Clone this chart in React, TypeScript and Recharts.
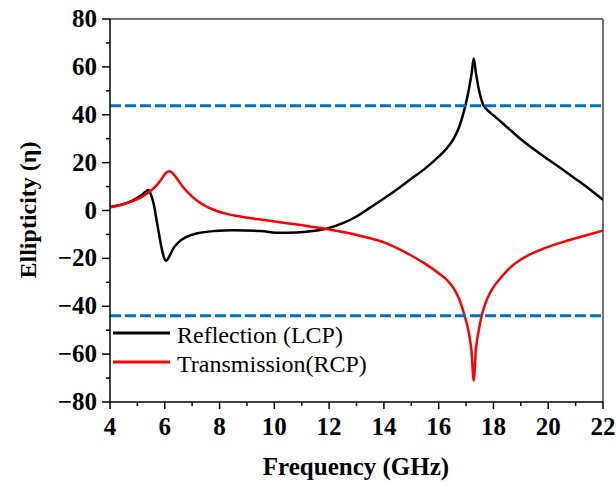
import React from 'react';
import { LineChart, Line, XAxis, YAxis, ReferenceLine, Legend } from 'recharts';

// Reflection (LCP) — black curve
const reflFreq = [4.0, 4.4, 4.8, 5.1, 5.3, 5.4, 5.5, 5.6, 5.7, 5.8, 5.9, 6.0, 6.05, 6.15, 6.3, 6.5, 6.8, 7.2, 7.8, 8.5, 9.5, 10.2, 10.8, 11.4, 11.9, 12.5, 13.0, 13.5, 14.0, 14.5, 15.0, 15.5, 16.0, 16.3, 16.55, 16.75, 16.9, 17.0, 17.1, 17.2, 17.28, 17.36, 17.45, 17.53, 17.62, 17.75, 17.9, 18.1, 18.5, 19.0, 19.5, 20.0, 20.5, 21.0, 21.5, 22.0];
const reflVals = [1.5, 2.4, 4.0, 6.0, 7.8, 8.6, 6.5, 2.5, -4, -10.5, -16.5, -20.5, -21, -19.5, -16, -13.3, -11, -9.5, -8.6, -8.3, -8.6, -9.3, -9.2, -8.6, -7.6, -5.3, -2.5, 1.2, 5, 9, 13.3, 17.5, 22.5, 26, 30, 35, 40.5, 45, 50.5, 57, 63.5, 57.5, 51.5, 47.5, 44.3, 42.3, 40.7, 38.8, 34.8, 29.8, 25.4, 21.3, 17.3, 13.2, 9, 4.5];

// Transmission (RCP) — red curve
const transFreq = [4.0, 4.4, 4.8, 5.1, 5.4, 5.7, 5.9, 6.05, 6.15, 6.25, 6.4, 6.68, 7.0, 7.28, 7.6, 7.9, 8.3, 8.8, 9.5, 10.2, 10.9, 11.85, 12.5, 13.0, 13.5, 14.0, 14.5, 15.0, 15.5, 16.0, 16.3, 16.55, 16.75, 16.95, 17.1, 17.2, 17.28, 17.36, 17.45, 17.57, 17.7, 17.85, 18.0, 18.24, 18.6, 19.0, 19.5, 20.0, 20.5, 21.0, 21.5, 22.0];
const transVals = [1.3, 2.3, 3.8, 5.3, 7.5, 10.5, 13.5, 15.8, 16.4, 16.0, 14.0, 9.6, 5.8, 3.3, 1.2, -0.2, -1.5, -2.6, -3.8, -4.9, -6.0, -7.6, -9.0, -10.2, -11.6, -13.3, -15.8, -18.8, -22.2, -26.2, -29.0, -32.5, -37, -44, -51, -59, -71, -58, -51, -44, -39, -35, -32, -28.5, -24, -20.5, -17.5, -15.2, -13.3, -11.6, -10, -8.4];

const xTicks = [4, 5, 6, 7, 8, 9, 10, 11, 12, 13, 14, 15, 16, 17, 18, 19, 20, 21, 22];
const yTicks = [-80, -70, -60, -50, -40, -30, -20, -10, 0, 10, 20, 30, 40, 50, 60, 70, 80];
const thresholdUpper = 43.8;
const thresholdLower = -44;

const reflData = reflFreq.map((f, i) => ({ f, v: reflVals[i] }));
const transData = transFreq.map((f, i) => ({ f, v: transVals[i] }));

const FONT = '"Liberation Serif", "Times New Roman", serif';

const XTick = (props: any) => {
  const { x, y, payload } = props;
  const v = payload.value;
  const major = v % 2 === 0;
  return (
    <g>
      <line x1={x} x2={x} y1={y} y2={y + (major ? 7 : 4)} stroke="#000" strokeWidth={1.5} />
      {major && (
        <text x={x} y={y + 33} textAnchor="middle" fontFamily={FONT} fontWeight="bold" fontSize={25} fill="#000">
          {v}
        </text>
      )}
    </g>
  );
};

const YTick = (props: any) => {
  const { x, y, payload } = props;
  const v = payload.value;
  const major = v % 20 === 0;
  const label = v < 0 ? '\u2212' + Math.abs(v) : String(v);
  return (
    <g>
      <line x1={x} x2={x - (major ? 8 : 4)} y1={y} y2={y} stroke="#000" strokeWidth={1.5} />
      {major && (
        <text x={x - 13} y={y + 8} textAnchor="end" fontFamily={FONT} fontWeight="bold" fontSize={25} fill="#000">
          {label}
        </text>
      )}
    </g>
  );
};

const LegendContent = (props: any) => {
  const items = props.payload || [];
  return (
    <svg width={320} height={64} style={{ display: 'block' }}>
      {items.map((it: any, i: number) => (
        <g key={i}>
          <line x1={5} x2={62} y1={15 + i * 29} y2={15 + i * 29} stroke={it.color} strokeWidth={3} />
          <text x={69} y={25 + i * 29} fontFamily={FONT} fontSize={24} fill="#000">
            {it.value}
          </text>
        </g>
      ))}
    </svg>
  );
};

export default function App() {
  return (
    <>
      <style>{'html, body { margin: 0; padding: 0; }'}</style>
      <div style={{ position: 'relative', width: 616, height: 485, fontFamily: FONT, overflow: 'hidden' }}>
        <LineChart width={616} height={485} margin={{ top: 19, right: 13, left: 0, bottom: 0 }}>
          <XAxis
            dataKey="f"
            type="number"
            domain={[4, 22]}
            ticks={xTicks}
            interval={0}
            height={83}
            tickSize={0}
            tickMargin={0}
            tickLine={false}
            tick={<XTick />}
            axisLine={{ stroke: '#000', strokeWidth: 1.5 }}
            allowDataOverflow
          />
          <YAxis
            type="number"
            domain={[-80, 80]}
            ticks={yTicks}
            interval={0}
            width={110}
            tickSize={0}
            tickMargin={0}
            tickLine={false}
            tick={<YTick />}
            axisLine={{ stroke: '#000', strokeWidth: 1.5 }}
            allowDataOverflow
          />
          <ReferenceLine y={80} stroke="#444" strokeWidth={1.5} />
          <ReferenceLine x={22} stroke="#444" strokeWidth={1.5} />
          <Line
            data={reflData}
            dataKey="v"
            name="Reflection (LCP)"
            type="monotone"
            stroke="#000000"
            strokeWidth={2.5}
            dot={false}
            isAnimationActive={false}
          />
          <Line
            data={transData}
            dataKey="v"
            name="Transmission(RCP)"
            type="monotone"
            stroke="#ff0000"
            strokeWidth={2.5}
            dot={false}
            isAnimationActive={false}
          />
          <ReferenceLine y={thresholdUpper} stroke="#0070C0" strokeWidth={3} strokeDasharray="11 4" />
          <ReferenceLine y={thresholdLower} stroke="#0070C0" strokeWidth={3} strokeDasharray="11 4" />
          <Legend
            layout="vertical"
            align="center"
            verticalAlign="middle"
            content={<LegendContent />}
            wrapperStyle={{ left: 108, top: 318, width: 320, height: 64 }}
          />
          <text x={356} y={475} textAnchor="middle" fontFamily={FONT} fontWeight="bold" fontSize={25} fill="#000">
            Frequency (GHz)
          </text>
          <text
            x={36}
            y={210}
            textAnchor="middle"
            fontFamily={FONT}
            fontWeight="bold"
            fontSize={24}
            fill="#000"
            transform="rotate(-90, 36, 210)"
          >
            Ellipticity (η)
          </text>
        </LineChart>
      </div>
    </>
  );
}
